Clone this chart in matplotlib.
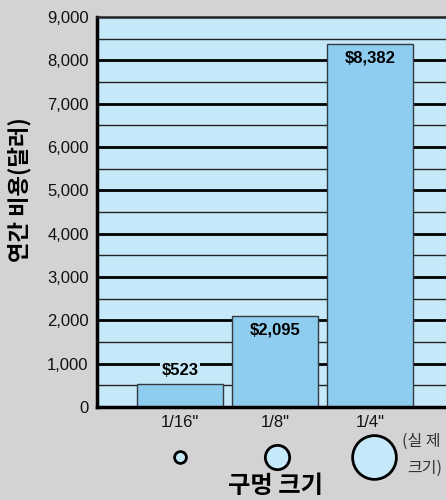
import matplotlib
matplotlib.use("Agg")
import matplotlib.pyplot as plt
import matplotlib.transforms as mtransforms

plt.rcParams['font.family'] = ['Liberation Sans Narrow', 'Liberation Sans', 'Noto Sans CJK KR', 'DejaVu Sans']

sizes = ['1/16"', '1/8"', '1/4"']
costs = [523, 2095, 8382]
cost_labels = ['$523', '$2,095', '$8,382']
circle_diam_pt = [8.5, 17.5, 31.5]
yticks = list(range(0, 9001, 1000))
ytick_labels = ['0', '1,000', '2,000', '3,000', '4,000', '5,000', '6,000', '7,000', '8,000', '9,000']

bg = '#d3d3d5'
plot_bg = '#c6e9f9'
bar_col = '#8ecdef'
cjk = ['Noto Sans CJK KR', 'DejaVu Sans']

fig = plt.figure(figsize=(4.46, 5.0), dpi=100, facecolor=bg)
ax = fig.add_axes([97 / 446, 93 / 500, 349 / 446, 390 / 500])
ax.set_facecolor(plot_bg)

x = list(range(len(sizes)))
ax.set_xlim(-0.874, 2.8)
ax.set_ylim(0, 9000)

# grid: thick at thousands, thin at half-thousands
for v in range(500, 9000, 500):
    if v % 1000 == 0:
        ax.axhline(v, color='black', lw=2.0, zorder=1)
    else:
        ax.axhline(v, color='#222222', lw=1.0, zorder=1)

ax.bar(x, costs, width=0.9, color=bar_col, edgecolor='#333a40', lw=1.0, zorder=2)

# value labels
ax.text(x[0], costs[0] + 150, cost_labels[0], ha='center', va='bottom', fontsize=12,
        fontweight='bold', zorder=3,
        bbox=dict(boxstyle='square,pad=0.1', fc=plot_bg, ec='none'))
for i in (1, 2):
    ax.text(x[i], costs[i] - 150, cost_labels[i], ha='center', va='top', fontsize=12,
            fontweight='bold', zorder=3)

ax.set_yticks(yticks)
ax.set_yticklabels(ytick_labels, fontsize=12, color='#111111')
ax.set_xticks(x)
ax.set_xticklabels(sizes, fontsize=12, color='#111111')
ax.tick_params(axis='y', length=0, pad=6)
ax.tick_params(axis='x', length=0, pad=6)

for side in ['left', 'bottom']:
    ax.spines[side].set_linewidth(2.5)
    ax.spines[side].set_color('black')
ax.spines['top'].set_linewidth(1.8)
ax.spines['top'].set_color('#222222')
ax.spines['right'].set_visible(False)

# hole size circles (actual size)
trans = mtransforms.blended_transform_factory(ax.transData, ax.transAxes)
for i, d in enumerate(circle_diam_pt):
    ax.scatter([x[i] + 0.02 * i], [-0.128], s=d ** 2, transform=trans, clip_on=False,
               facecolor=plot_bg, edgecolor='black', linewidth=2.0, zorder=5)

fig.text(402 / 446, 1 - 441 / 500, '(실 제', ha='left', va='center', fontsize=11.5,
         color='#333333', family=cjk)
fig.text(407 / 446, 1 - 468 / 500, '크기)', ha='left', va='center', fontsize=11.5,
         color='#333333', family=cjk)

fig.text(276 / 446, 1 - 486 / 500, '구멍 크기', ha='center', va='center', fontsize=17.5,
         fontweight='bold', family=cjk)
fig.text(20 / 446, 1 - 190 / 500, '연간 비용(달러)', ha='center', va='center', fontsize=16,
         fontweight='bold', rotation=90, family=cjk)

fig.savefig('out.png', dpi=100, facecolor=bg)
